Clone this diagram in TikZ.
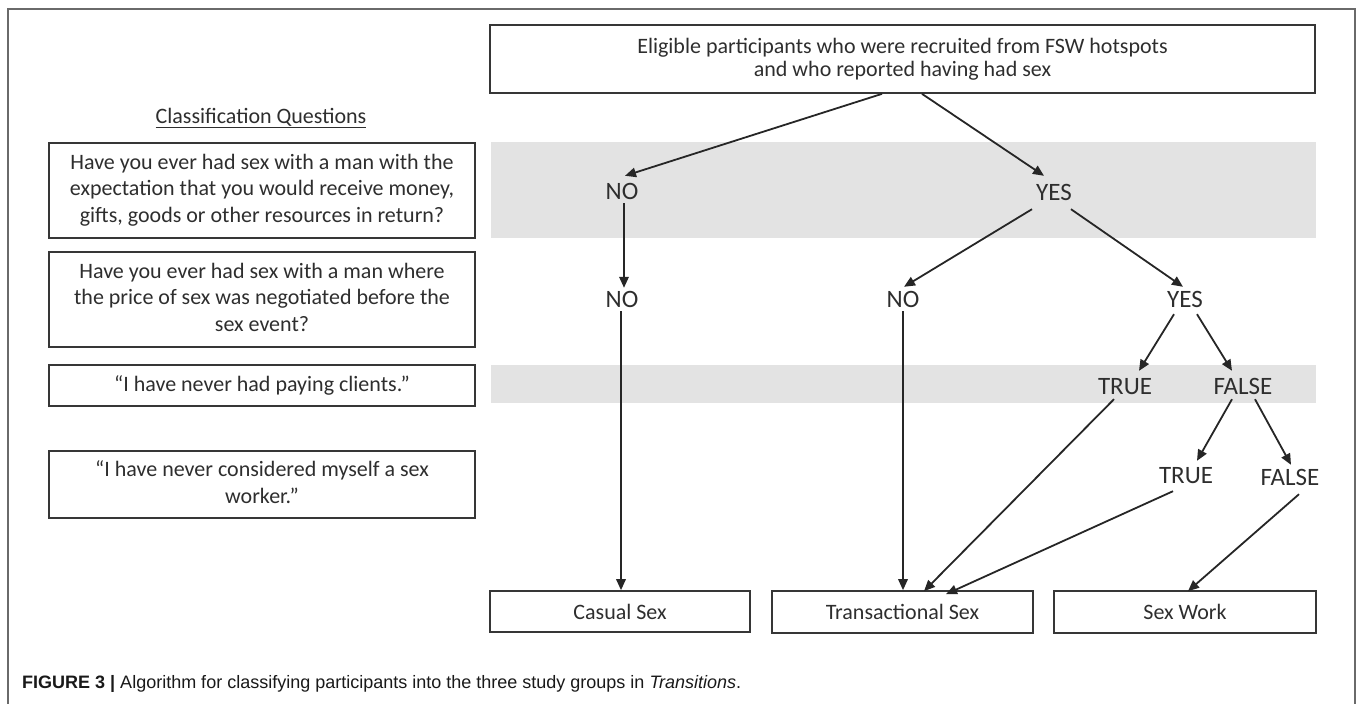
\documentclass[tikz,border=0pt]{standalone}
\usepackage{fontspec}
\setmainfont{Carlito}
\newfontfamily\capfont{Liberation Sans}
\usetikzlibrary{arrows.meta}
\definecolor{txt}{HTML}{2E2E2E}
\definecolor{edge}{HTML}{363636}
\definecolor{band}{HTML}{E3E3E3}
\definecolor{framec}{HTML}{6A6A6A}
\tikzset{
  qbox/.style={draw=edge, line width=1.7pt, text=txt, align=center, inner sep=0pt,
    font=\fontsize{22}{26.5}\selectfont},
  outbox/.style={draw=edge, line width=1.7pt, text=txt, align=center, inner sep=0pt,
    font=\fontsize{22}{26}\selectfont},
  lab/.style={text=txt, inner xsep=2pt, inner ysep=9pt, text height=16pt, text depth=0pt,
    font=\fontsize{25}{28}\selectfont},
  arr/.style={draw=black!85, line width=1.8pt, -{Triangle[length=11pt,width=9.5pt]}}
}
\begin{document}
\begin{tikzpicture}[x=1pt,y=-1pt]
\useasboundingbox (0,0) rectangle (1358,704);
% frame
\draw[framec, line width=1.5pt] (8,704) -- (8,9) -- (1355,9) -- (1355,704);
% bands
\fill[band] (491,142) rectangle (1316,238);
\fill[band] (491,365) rectangle (1316,403);
% top box
\node[outbox, minimum width=825pt, minimum height=68pt] (top) at (902.5,59)
  {\raisebox{-2pt}{\shortstack{Eligible participants who were recruited from FSW hotspots\\[1pt]and who reported having had sex}}};
% question column
\node[text=txt, inner sep=0pt, font=\fontsize{22}{26}\selectfont] (cq) at (261,118)
  {\underline{Classification Questions}};
\node[qbox, minimum width=426pt, minimum height=95pt] (q1) at (262,190.5)
  {\raisebox{-2pt}{\begin{tabular}{@{}c@{}}Have you ever had sex with a man with the\\expectation that you would receive money,\\gifts, goods or other resources in return?\end{tabular}}};
\node[qbox, minimum width=426pt, minimum height=95pt] (q2) at (262,299.5)
  {\raisebox{-2pt}{\begin{tabular}{@{}c@{}}Have you ever had sex with a man where\\the price of sex was negotiated before the\\sex event?\end{tabular}}};
\node[qbox, minimum width=426pt, minimum height=41pt] (q3) at (262,385.5)
  {“I have never had paying clients.”};
\node[qbox, minimum width=426pt, minimum height=67pt] (q4) at (262,484.5)
  {\raisebox{-2pt}{\begin{tabular}{@{}c@{}}“I have never considered myself a sex\\worker.”\end{tabular}}};
% labels
\node[lab] (no1) at (622,191) {NO};
\node[lab] (yes1) at (1054,192) {YES};
\node[lab] (no2a) at (622,299) {NO};
\node[lab] (no2b) at (903,299) {NO};
\node[lab] (yes2) at (1185,299) {YES};
\node[lab] (true1) at (1125,386) {TRUE};
\node[lab] (false1) at (1243,386) {FALSE};
\node[lab] (true2) at (1186,475) {TRUE};
\node[lab] (false2) at (1290,477) {FALSE};
% outcome boxes
\node[outbox, minimum width=260pt, minimum height=41pt] (casual) at (620,611.5) {Casual Sex};
\node[outbox, minimum width=261pt, minimum height=42pt] (trans) at (902.5,612) {Transactional Sex};
\node[outbox, minimum width=262pt, minimum height=42pt] (sw) at (1185,612) {Sex Work};
% connectors
\draw[arr] ([xshift=-20.5pt]top.south) -- ([xshift=3pt,yshift=-2pt]no1.north);
\draw[arr] ([xshift=19.5pt]top.south) -- ([xshift=-10pt,yshift=-1pt]yes1.north);
\draw[arr] ([xshift=2pt,yshift=5pt]no1.south) -- ([xshift=2pt,yshift=-6pt]no2a.north);
\draw[arr] ([xshift=-22pt]yes1.south) -- ([xshift=1pt,yshift=-5pt]no2b.north);
\draw[arr] ([xshift=17pt]yes1.south) -- ([xshift=-2pt,yshift=-5pt]yes2.north);
\draw[arr] ([xshift=-1pt,yshift=5pt]no2a.south) -- ([xshift=-1pt]no2a.south |- casual.north);
\draw[arr] ([yshift=5pt]no2b.south) -- (no2b.south |- trans.north);
\draw[arr] ([xshift=-11pt,yshift=2pt]yes2.south) -- ([xshift=14pt,yshift=-2pt]true1.north);
\draw[arr] ([xshift=12pt,yshift=2pt]yes2.south) -- ([xshift=-11pt,yshift=-2pt]false1.north);
\draw[arr] ([xshift=-11pt,yshift=4pt]true1.south) -- ([xshift=21.5pt,yshift=-1pt]trans.north);
\draw[arr] ([xshift=-11pt,yshift=4pt]false1.south) -- ([xshift=11pt,yshift=-3pt]true2.north);
\draw[arr] ([xshift=12pt,yshift=4pt]false1.south) -- ([xshift=1pt,yshift=-5pt]false2.north);
\draw[arr] ([xshift=-13pt,yshift=1pt]true2.south) -- ([xshift=43.5pt,yshift=-4pt]trans.north);
\draw[arr] ([xshift=9pt,yshift=0pt]false2.south) -- ([xshift=3pt,yshift=-1pt]sw.north);
% caption
\node[anchor=west, inner sep=0pt, text=black!90, font=\capfont\fontsize{18}{21}\selectfont] (cap) at (22,684)
  {\textbf{FIGURE 3 |} Algorithm for classifying participants into the three study groups in \textit{Transitions}.};
\end{tikzpicture}
\end{document}
